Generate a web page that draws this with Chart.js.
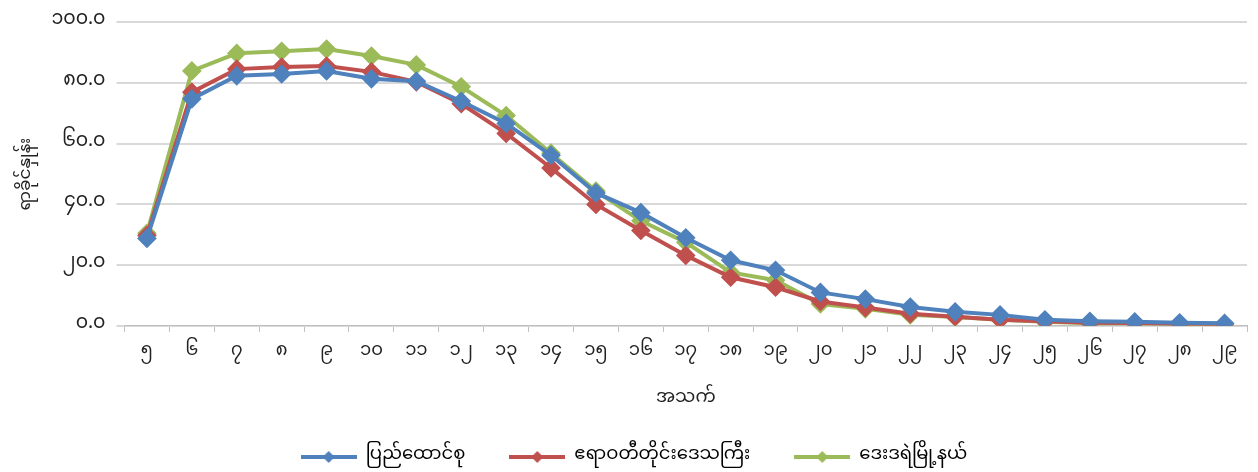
<!DOCTYPE html>
<html>
<head>
<meta charset="utf-8">
<script src="https://cdn.jsdelivr.net/npm/chart.js@4"></script>
<style>
  html, body { margin: 0; padding: 0; background: #fff; }
  #wrap { width: 1258px; height: 472px; }
</style>
</head>
<body>
<div id="wrap"><canvas id="canvas"></canvas></div>
<script>
// ages 5..29, written with Myanmar digits
var ages = [5, 6, 7, 8, 9, 10, 11, 12, 13, 14, 15, 16, 17, 18, 19, 20, 21, 22, 23, 24, 25, 26, 27, 28, 29];
var seriesNames = ["ပြည်ထောင်စု", "ဧရာဝတီတိုင်းဒေသကြီး", "ဒေးဒရဲမြို့နယ်"];
var union = [28.8, 74.8, 82.4, 83.0, 84.0, 81.4, 80.6, 74.0, 66.7, 56.2, 43.8, 37.3, 29.0, 21.6, 18.3, 11.0, 8.8, 6.2, 4.6, 3.6, 2.0, 1.5, 1.3, 1.0, 0.8];
var ayeyarwady = [29.8, 77.0, 84.6, 85.3, 85.6, 83.7, 80.4, 73.2, 63.4, 52.0, 40.0, 31.4, 23.2, 16.0, 12.7, 8.0, 6.0, 4.0, 3.0, 2.0, 1.5, 1.0, 0.9, 0.7, 0.6];
var daedaye = [30.5, 84.0, 89.8, 90.5, 91.2, 88.9, 86.0, 78.8, 69.3, 56.9, 44.4, 34.6, 27.5, 17.6, 15.0, 7.2, 5.6, 3.6, 2.9, 2.0, 1.3, 0.8, 0.8, 0.6, 0.5];
var colors = ["#4F81BD", "#C0504D", "#9BBB59"];

var mmDigits = "၀၁၂၃၄၅၆၇၈၉";
function mm(s) {
  return String(s).replace(/[0-9]/g, function(d) { return mmDigits[+d]; });
}

var FONT = "'Noto Sans Myanmar', 'Padauk', 'Myanmar Text', 'Noto Sans', 'DejaVu Sans', sans-serif";

// legend swatch: short line with a diamond in the middle
function swatch(color) {
  var c = document.createElement("canvas");
  c.width = 56; c.height = 14;
  var g = c.getContext("2d");
  g.strokeStyle = color; g.lineWidth = 4;
  g.beginPath(); g.moveTo(0, 7); g.lineTo(56, 7); g.stroke();
  g.fillStyle = color;
  g.beginPath(); g.moveTo(28, 1); g.lineTo(34, 7); g.lineTo(28, 13); g.lineTo(22, 7); g.closePath(); g.fill();
  return c;
}

// wider gaps between legend items without a tall legend box
var legendHeight = {
  id: "legendHeight",
  beforeInit: function(chart) {
    var fit = chart.legend.fit;
    chart.legend.fit = function() {
      fit.call(this);
      this.height = 68;
    };
  }
};

var allData = [union, ayeyarwady, daedaye];
var datasets = allData.map(function(d, i) {
  return {
    label: seriesNames[i],
    data: d,
    borderColor: colors[i],
    backgroundColor: colors[i],
    borderWidth: 4,
    pointStyle: "rectRot",
    pointRadius: 7,
    pointHoverRadius: 7,
    tension: 0
  };
});

var ctx = document.getElementById("canvas").getContext("2d");
new Chart(ctx, {
  type: "line",
  data: { labels: ages.map(mm), datasets: datasets },
  plugins: [legendHeight],
  options: {
    responsive: true,
    maintainAspectRatio: false,
    animation: false,
    layout: { padding: { left: 18, right: 8, top: 2, bottom: 0 } },
    plugins: {
      tooltip: { enabled: false },
      legend: {
        position: "bottom",
        labels: {
          usePointStyle: true,
          pointStyleWidth: 56,
          color: "#222",
          font: { family: FONT, size: 18 },
          padding: 44,
          generateLabels: function(chart) {
            return chart.data.datasets.map(function(ds, i) {
              return {
                text: ds.label,
                pointStyle: swatch(colors[i]),
                fillStyle: colors[i],
                strokeStyle: colors[i],
                lineWidth: 0,
                datasetIndex: i,
                hidden: false
              };
            });
          }
        }
      }
    },
    scales: {
      x: {
        offset: true,
        grid: { offset: true, drawOnChartArea: false, color: "#bfbfbf", tickLength: 6 },
        border: { color: "#bfbfbf" },
        ticks: { color: "#222", padding: 10, font: { family: FONT, size: 18 }, maxRotation: 0, autoSkip: false },
        title: { display: true, text: "အသက်", color: "#222", padding: { top: 16, bottom: -7 }, font: { family: FONT, size: 18 } }
      },
      y: {
        min: 0,
        max: 100,
        grid: { color: "#d9d9d9", lineWidth: 2, tickLength: 8 },
        border: { display: false },
        ticks: {
          stepSize: 20,
          color: "#222",
          padding: 11,
          font: { family: FONT, size: 19 },
          callback: function(v) { return mm(v.toFixed(1)); }
        },
        title: { display: true, text: "ရာခိုင်နှုန်း", color: "#222", padding: { top: 0, bottom: 2 }, font: { family: FONT, size: 17 } }
      }
    }
  }
});
</script>
</body>
</html>
